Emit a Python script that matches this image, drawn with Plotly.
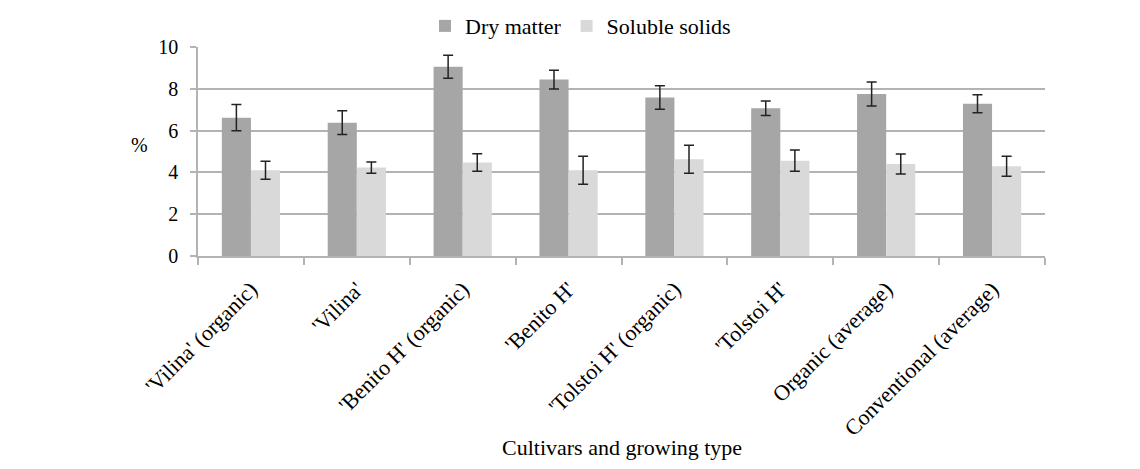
import plotly.graph_objects as go

categories = ["'Vilina' (organic)", "'Vilina'", "'Benito H' (organic)", "'Benito H'",
              "'Tolstoi H' (organic)", "'Tolstoi H'", "Organic (average)", "Conventional (average)"]
dry_matter = [6.62, 6.38, 9.06, 8.44, 7.58, 7.07, 7.75, 7.29]
dry_matter_err = [0.63, 0.57, 0.55, 0.45, 0.56, 0.35, 0.57, 0.43]
soluble_solids = [4.10, 4.23, 4.47, 4.10, 4.63, 4.56, 4.40, 4.29]
soluble_solids_err = [0.43, 0.27, 0.42, 0.67, 0.67, 0.51, 0.48, 0.48]
y_ticks = [0, 2, 4, 6, 8, 10]

FONT = "Liberation Serif"

fig = go.Figure()
fig.add_trace(go.Bar(
    name="Dry matter", x=categories, y=dry_matter,
    marker=dict(color="#a6a6a6", line=dict(width=0)),
    error_y=dict(type="data", array=dry_matter_err, color="#222222", thickness=1.5, width=5),
))
fig.add_trace(go.Bar(
    name="Soluble solids", x=categories, y=soluble_solids,
    marker=dict(color="#d9d9d9", line=dict(width=0)),
    error_y=dict(type="data", array=soluble_solids_err, color="#222222", thickness=1.5, width=5),
))

fig.update_layout(
    width=1140, height=469,
    margin=dict(l=198, r=95, t=47, b=213, autoexpand=False),
    paper_bgcolor="white", plot_bgcolor="white",
    barmode="group", bargap=0.45, bargroupgap=0,
    font=dict(family=FONT, size=20, color="#000000"),
    showlegend=True,
    legend=dict(orientation="h", x=0.268, xanchor="left", y=1.10, yanchor="middle",
                font=dict(size=22, color="#000000"),
                bgcolor="rgba(0,0,0,0)", itemwidth=30, traceorder="normal"),
    xaxis=dict(
        type="category", showline=True, linecolor="#b3b3b3", linewidth=1.5,
        ticks="outside", tickson="boundaries", ticklen=7, tickcolor="#b3b3b3", tickwidth=1.5,
        tickangle=-45, tickfont=dict(family=FONT, size=22, color="#000000"),
        showgrid=False, automargin=False, ticklabelstandoff=10,
    ),
    yaxis=dict(
        range=[0, 10], tickvals=y_ticks, showline=True, linecolor="#b3b3b3", linewidth=1.5,
        ticks="outside", ticklen=6, tickcolor="#b3b3b3", tickwidth=1.5,
        showgrid=True, gridcolor="#b3b3b3", gridwidth=1.5, zeroline=False,
        tickfont=dict(family=FONT, size=20, color="#000000"), automargin=False,
        ticklabelstandoff=8,
    ),
    annotations=[
        dict(text="%", xref="paper", yref="paper", x=-0.069, y=0.53, xanchor="center",
             yanchor="middle", showarrow=False, font=dict(family=FONT, size=20, color="#000000")),
        dict(text="Cultivars and growing type", xref="paper", yref="paper", x=0.5, y=-0.915,
             xanchor="center", yanchor="middle", showarrow=False,
             font=dict(family=FONT, size=22, color="#000000")),
    ],
)

post = (
    "document.body.style.margin='0';"
    "var st=document.createElement('style');"
    "st.textContent='.modebar-container{opacity:0 !important;}';"
    "document.head.appendChild(st);"
)
fig.write_html("out.html", post_script=post)
